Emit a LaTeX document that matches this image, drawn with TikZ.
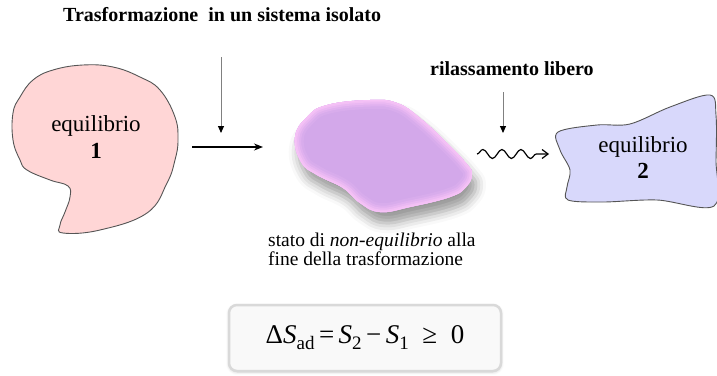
\documentclass[tikz,border=0pt]{standalone}
\usepackage{fontspec}
\setmainfont{Liberation Serif}
\usetikzlibrary{arrows.meta,decorations.pathmorphing,shadows.blur}
\definecolor{pinkfill}{HTML}{FFD6D6}
\definecolor{lavfill}{HTML}{D8D8FB}
\definecolor{outline}{HTML}{555555}
\definecolor{midin}{HTML}{D3A8EA}
\definecolor{midedge}{HTML}{F7C3F7}
\begin{document}
\begin{tikzpicture}[x=1pt,y=-1pt,
  blobline/.style={draw=outline, line width=0.9pt},
  eqtext/.style={font=\fontsize{23}{26}\selectfont, anchor=base, inner sep=0pt},
  headtext/.style={font=\fontsize{20}{22}\selectfont\bfseries, anchor=base west, inner sep=0pt},
  notetext/.style={font=\fontsize{19.5}{21}\selectfont, anchor=base west, inner sep=0pt},
  downarrow/.style={draw=gray, line width=1pt, -{Triangle[length=7pt,width=6pt,color=black]}},
  midblob/.style={insert path={plot[smooth cycle, tension=0.75] coordinates {
     (295,137) (307,117) (327,105) (370,100) (397,103) (420,118) (447,143) (466,163)
     (472,174) (466,187) (450,197) (410,207) (380,212) (360,203) (343,188) (317,175) (301,162)}}}
]
\useasboundingbox (0,0) rectangle (717,375);

% blob 1
\draw[blobline, fill=pinkfill] plot[smooth cycle, tension=0.7] coordinates {
  (20,97) (33,80) (53,70) (83,65) (113,67) (140,77) (160,90) (175,117) (178,140)
  (175,160) (167,183) (147,213) (100,230) (63,233) (60,225) (65,212) (70,197)
  (68,186) (50,180) (27,170) (20,160) (13,140) (13,113)};
\node[eqtext] (e1a) at (96,131) {equilibrio};
\node[eqtext, font=\fontsize{23}{26}\selectfont\bfseries] (e1b) at (96,158) {1};

% title and arrows
\node[headtext] (title) at (63,21) {Trasformazione\ \ in un sistema isolato};
\coordinate (d1s) at (221,57);
\coordinate (d1e) at (221,133);
\draw[downarrow] (d1s) -- (d1e);
\coordinate (r1s) at (192,147);
\coordinate (r1e) at (263,147);
\draw[line width=1.3pt, -{Stealth[length=9pt,width=7pt]}] (r1s) -- (r1e);

% middle blob
\path[midblob, blur shadow={shadow xshift=4pt, shadow yshift=-11pt, shadow blur radius=10pt, shadow opacity=40}];
\begin{scope}
\clip[midblob];
\fill[midin, midblob];
\draw[line width=18pt, color=midin!85!midedge, midblob];
\draw[line width=13pt, color=midin!65!midedge, midblob];
\draw[line width=9pt, color=midin!40!midedge, midblob];
\draw[line width=5pt, color=midin!15!midedge, midblob];
\draw[line width=2pt, color=midedge, midblob];
\end{scope}
\node[notetext] (n1) at (268,246) {stato di \textit{non-equilibrio} alla};
\node[notetext] (n2) at (268,265) {fine della trasformazione};

% relaxation
\node[headtext] (relax) at (430,75) {rilassamento libero};
\coordinate (d2s) at (503,92);
\coordinate (d2e) at (503,133);
\draw[downarrow] (d2s) -- (d2e);
\coordinate (w1s) at (477,154);
\coordinate (w1e) at (549,154);
\draw[line width=1.2pt, decorate, decoration={snake, segment length=19pt, amplitude=4.5pt, post length=9pt},
  -{Straight Barb[length=6pt,width=9pt]}] (w1s) -- (w1e);

% blob 2
\draw[blobline, fill=lavfill] plot[smooth cycle, tension=0.55] coordinates {
  (558,132) (597,125) (630,124) (670,107) (710,95) (716,115) (716,160) (714,206)
  (657,200) (603,202) (568,200) (567,187) (570,170) (560,150)};
\node[eqtext] (e2a) at (643,152) {equilibrio};
\node[eqtext, font=\fontsize{23}{26}\selectfont\bfseries] (e2b) at (643,178) {2};

% formula
\node[draw=gray!30, line width=2.5pt, rounded corners=8pt, fill=gray!5,
  minimum width=272pt, minimum height=66pt, inner sep=0pt,
  blur shadow={shadow xshift=0pt, shadow yshift=-1pt, shadow blur radius=3pt, shadow opacity=20},
  font=\fontsize{27}{30}\selectfont] (formula) at (365,338)
  {Δ\textit{S}\raisebox{-6pt}{\fontsize{19}{20}\selectfont ad}\,=\,\textit{S}\raisebox{-6pt}{\fontsize{19}{20}\selectfont 2}\,−\,\textit{S}\raisebox{-6pt}{\fontsize{19}{20}\selectfont 1}\enspace ≥\enspace 0};
\end{tikzpicture}
\end{document}
